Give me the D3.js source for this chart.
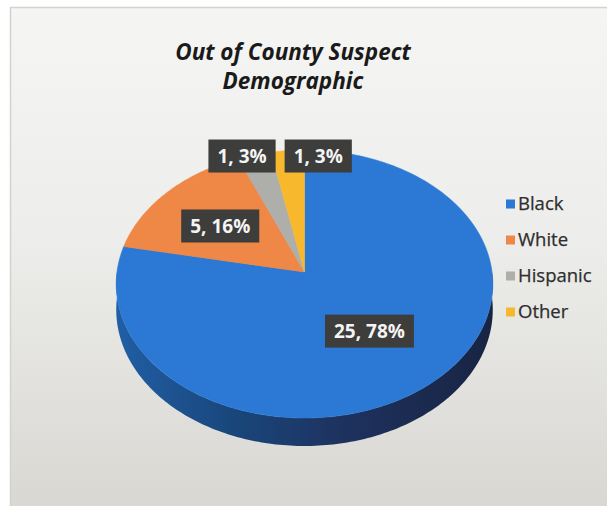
<!DOCTYPE html>
<html>
<head>
<meta charset="utf-8">
<script src="https://cdn.jsdelivr.net/npm/d3@7"></script>
<style>
  html, body { margin: 0; padding: 0; background: #ffffff; }
  svg { display: block; }
</style>
</head>
<body>
<svg id="chart" width="607" height="506"></svg>
<script>
// ---- data ----
const categories = ["Black", "White", "Hispanic", "Other"];
const counts = [25, 5, 1, 1];
const titleLines = ["Out of County Suspect", "Demographic"];

// ---- setup ----
const W = 607, H = 506;
const svg = d3.select("#chart");
const defs = svg.append("defs");

const color = d3.scaleOrdinal()
  .domain(categories)
  .range(["#2b79d4", "#ef8746", "#aeaeab", "#f8b82e"]);

// chart area background
const bg = defs.append("linearGradient")
  .attr("id", "bgGrad").attr("x1", 0).attr("y1", 0).attr("x2", 0).attr("y2", 1);
bg.append("stop").attr("offset", 0).attr("stop-color", "#f5f5f3");
bg.append("stop").attr("offset", 0.45).attr("stop-color", "#ededeb");
bg.append("stop").attr("offset", 1).attr("stop-color", "#d8d7d2");

svg.append("rect")
  .attr("x", 10.5).attr("y", 7.5)
  .attr("width", W - 8).attr("height", H)
  .attr("fill", "url(#bgGrad)")
  .attr("stroke", "#d2d2d0").attr("stroke-width", 1.5);

// ---- title ----
svg.append("g")
  .selectAll("text")
  .data(titleLines)
  .join("text")
  .attr("x", 293)
  .attr("y", (d, i) => 60 + i * 29)
  .attr("text-anchor", "middle")
  .attr("font-family", "'Open Sans', sans-serif")
  .attr("font-weight", 700)
  .attr("font-style", "italic")
  .attr("font-size", 22.5)
  .attr("fill", "#1a1a1a")
  .text(d => d);

// ---- 3D disc projection ----
const cx = 304.5, cy = 272;   // projected centre of the disc
const rx = 187.5, ry = 132.9; // horizontal / depth radii
const persp = 0.0896;         // perspective strength
const depth = 25.5;           // disc thickness

function project(angle, r, level) {
  const X = r * Math.sin(angle);
  const Z = r * Math.cos(angle);
  const s = 1 / (1 + persp * Z);
  return [cx + rx * X * s, cy - ry * Z * s + level * depth * s];
}

function arcPoints(a0, a1, r, level) {
  const n = Math.max(2, Math.ceil((a1 - a0) / (Math.PI / 180)));
  return d3.range(n + 1).map(i => project(a0 + (a1 - a0) * i / n, r, level));
}

const pie = d3.pie().sort(null).value(d => d.count);
const slices = pie(categories.map((c, i) => ({ category: c, count: counts[i] })));
const total = d3.sum(counts);
const pct = d3.format(".0%");
const closedLine = d3.line().curve(d3.curveLinearClosed);

// outer wall (front half only)
const wallGroup = svg.append("g");
slices.forEach((d, i) => {
  const a0 = Math.max(d.startAngle, Math.PI / 2);
  const a1 = Math.min(d.endAngle, 3 * Math.PI / 2);
  if (a1 <= a0) return;
  const base = d3.color(color(d.data.category));
  const gid = "wall" + i;
  const g = defs.append("linearGradient")
    .attr("id", gid).attr("gradientUnits", "userSpaceOnUse")
    .attr("x1", cx - rx).attr("y1", 0).attr("x2", cx + rx).attr("y2", 0);
  g.append("stop").attr("offset", 0).attr("stop-color", base.darker(0.7));
  g.append("stop").attr("offset", 0.3).attr("stop-color", base.darker(1.5));
  g.append("stop").attr("offset", 0.6).attr("stop-color", d3.rgb(30, 50, 95));
  g.append("stop").attr("offset", 1).attr("stop-color", d3.rgb(24, 36, 66));
  const pts = arcPoints(a0, a1, 1, 0).concat(arcPoints(a0, a1, 1, 1).reverse());
  wallGroup.append("path")
    .attr("d", closedLine(pts))
    .attr("fill", `url(#${gid})`);
});

// top faces
svg.append("g")
  .selectAll("path")
  .data(slices)
  .join("path")
  .attr("d", d => closedLine([project(0, 0, 0)].concat(arcPoints(d.startAngle, d.endAngle, 1, 0))))
  .attr("fill", d => color(d.data.category))
  .attr("stroke", d => color(d.data.category))
  .attr("stroke-width", 0.6);

// ---- data labels ----
const labelFont = 19, padX = 9, boxH = 33;
const labels = svg.append("g")
  .attr("font-family", "'Open Sans', sans-serif")
  .attr("font-weight", 700)
  .attr("font-size", labelFont);

const labelItems = slices.map(d => {
  const frac = d.data.count / total;
  return { d, frac, text: `${d.data.count}, ${pct(frac)}` };
});

// measure label widths
labelItems.forEach(item => {
  const t = labels.append("text").text(item.text);
  item.w = t.node().getComputedTextLength() + 2 * padX;
  t.remove();
});

// large slices: inside the slice; small slices: above the rim, packed leftwards
const topY = project(0, 1, 0)[1];
const small = labelItems.filter(it => it.frac < 0.05).sort((a, b) => b.d.startAngle - a.d.startAngle);
labelItems.filter(it => it.frac >= 0.05).forEach(it => {
  const mid = (it.d.startAngle + it.d.endAngle) / 2;
  const [x, y] = project(mid, 0.5 + 0.12 * (1 - it.frac), 0);
  it.x = x; it.y = y + 3;
});
let rightEdge = null;
small.forEach(it => {
  const mid = (it.d.startAngle + it.d.endAngle) / 2;
  const ax = project(mid, 1, 0)[0];
  const left = rightEdge === null ? ax - 3 : Math.min(ax - 3, rightEdge - 9 - it.w);
  it.x = left + it.w / 2;
  it.y = topY + 6;
  rightEdge = left;
});

const lab = labels.selectAll("g")
  .data(labelItems)
  .join("g")
  .attr("transform", it => `translate(${it.x},${it.y})`);
lab.append("rect")
  .attr("x", it => -it.w / 2).attr("y", -boxH / 2)
  .attr("width", it => it.w).attr("height", boxH)
  .attr("fill", "#3d3d3c");
lab.append("text")
  .attr("text-anchor", "middle")
  .attr("dy", "0.36em")
  .attr("fill", "#f4f4f4")
  .text(it => it.text);

// ---- legend ----
const legend = svg.append("g")
  .attr("font-family", "'Open Sans', sans-serif")
  .attr("font-size", 18.5);
const legY = d3.scalePoint().domain(categories).range([204, 312]);
const li = legend.selectAll("g")
  .data(categories)
  .join("g")
  .attr("transform", c => `translate(506,${legY(c)})`);
li.append("rect")
  .attr("x", 0).attr("y", -4.5)
  .attr("width", 9).attr("height", 9)
  .attr("fill", c => color(c));
li.append("text")
  .attr("x", 12)
  .attr("dy", "0.35em")
  .attr("fill", "#2e2e2e")
  .attr("stroke", "#2e2e2e")
  .attr("stroke-width", 0.25)
  .text(c => c);
</script>
</body>
</html>
